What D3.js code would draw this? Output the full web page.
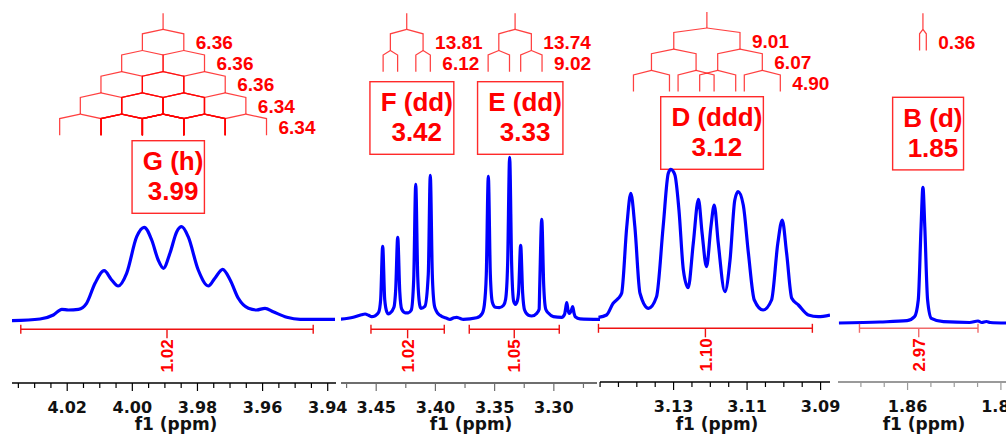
<!DOCTYPE html>
<html><head><meta charset="utf-8">
<script src="https://cdn.jsdelivr.net/npm/d3@7"></script>
<style>body{margin:0;background:#fff}svg{display:block}</style>
</head><body>
<svg id="c" width="1006" height="438"></svg>
<script>
// ---------------- DATA ----------------
const MHZ = 500;
// axis domains (ppm, left -> right)
const panelDomains = [[4.0368, 3.9373], [3.4793, 3.2606], [3.1507, 3.0873], [1.8674, 1.8494]];
// labelled ticks per panel
const ticksG = [4.02, 4.00, 3.98, 3.96, 3.94];
const ticksFE = [3.45, 3.40, 3.35, 3.30];
const ticksD = [3.13, 3.11, 3.09];
const ticksB = [1.86, 1.85];
const minorSteps = [0.005, 0.025, 0.005, 0.0025];
const axisTitle = "f1 (ppm)";

// spectra: [ppm, intensity]
const specG = [
 [4.0368,0.3],[4.0282,2],[4.0241,6],[4.0215,11.7],[4.0195,11],[4.0164,11.7],[4.0139,17.7],[4.0113,37.7],
 [4.0085,50.3],[4.0062,41],[4.0042,35],[4.0016,47.7],[3.9985,84.3],[3.9962,93.7],[3.9939,81],[3.9919,61],
 [3.9903,52.7],[3.9883,67.7],[3.9862,89.3],[3.9847,94.3],[3.9827,84.3],[3.9796,51],[3.9765,35],[3.9745,42.7],
 [3.9721,51.7],[3.9698,41],[3.9673,22.7],[3.9642,12.7],[3.9617,11],[3.9591,12.7],[3.9566,9.3],[3.9524,3.7],
 [3.9483,1.7],[3.9376,1.7]
];
const specFE = [
 [3.4801,0],[3.4689,2],[3.4620,4.5],[3.4590,5.3],[3.4560,4],[3.4534,2.6],[3.4505,3.5],[3.4475,7],
 [3.4458,20],[3.4441,73],[3.4424,20],[3.4405,7],[3.4394,5.3],[3.4380,6],[3.4346,12],[3.4331,30],
 [3.4314,82],[3.4297,28],[3.4280,10],[3.4250,6.5],[3.4225,6.5],[3.4200,9],[3.4179,40],[3.4162,135],
 [3.4145,42],[3.4128,14],[3.4118,11],[3.4085,13],[3.4056,45],[3.4039,144],[3.4022,45],[3.4005,14],
 [3.3991,9],[3.3957,4],[3.3900,1],[3.3873,0],[3.3840,1.5],[3.3816,2],[3.3790,1],[3.3760,0],
 [3.3647,1.5],[3.3600,6],[3.3583,14],[3.3566,45],[3.3549,143],[3.3532,45],[3.3515,17],[3.3490,12],
 [3.3456,11.6],[3.3420,14],[3.3403,20],[3.3386,55],[3.3369,162],[3.3352,55],[3.3335,18],[3.3320,15],
 [3.3305,18],[3.3293,28],[3.3276,74],[3.3259,26],[3.3242,9],[3.3210,4],[3.3183,3.3],[3.3140,6],
 [3.3120,10],[3.3115,33],[3.3098,100],[3.3081,33],[3.3064,10],[3.3040,6],[3.3000,2.6],[3.2929,2],
 [3.2905,5],[3.2897,10],[3.2887,16.6],[3.2876,9],[3.2865,6],[3.2848,9],[3.2837,12.6],[3.2825,6],
 [3.2815,2.5],[3.2775,0.5],[3.2606,0]
];
const specD = [
 [3.1503,0.7],[3.1481,3],[3.1463,14.7],[3.1449,19.7],[3.1440,24.7],[3.1426,91.3],[3.1415,124.7],[3.1404,91.3],
 [3.1390,24.7],[3.1367,9.7],[3.1345,21.3],[3.1327,91.3],[3.1313,144.7],[3.1306,148.7],[3.1295,143],[3.1284,108],
 [3.1272,48],[3.1259,30.3],[3.1245,74.7],[3.1231,118.7],[3.1221,84.7],[3.1209,51.3],[3.1197,91.3],[3.1188,113],
 [3.1177,74.7],[3.1159,26.3],[3.1145,58],[3.1132,118],[3.1123,126.3],[3.1109,113],[3.1095,64.7],[3.1079,18],
 [3.1055,8],[3.1032,18],[3.1015,74.7],[3.1003,98],[3.0991,64.7],[3.0977,19.7],[3.0959,13],[3.0932,3],
 [3.0905,1.3],[3.0873,3]
];
const specB = [
 [1.8673,0],[1.8629,1],[1.8600,2.3],[1.8592,6.3],[1.8588,23],[1.8585,96],[1.8583,135.7],[1.8581,96],
 [1.8578,23],[1.8574,4.7],[1.8561,1.3],[1.8533,0.5],[1.8524,2],[1.8520,0.5],[1.8515,1.5],[1.8511,0.5],[1.8494,0]
];

// multiplets
const multLabels = ["G (h)", "F (dd)", "E (dd)", "D (ddd)", "B (d)"];
const multShifts = ["3.99", "3.42", "3.33", "3.12", "1.85"];
const multCenters = [3.9904, 3.4238, 3.3323, 3.1208, 1.8583];
const multPanels = [0, 1, 1, 2, 3];
const multJ = [[6.36, 6.36, 6.36, 6.34, 6.34], [13.81, 6.12], [13.74, 9.02], [9.01, 6.07, 4.90], [0.36]];

// integrals
const intPanels = [0, 1, 1, 2, 3];
const intFrom = [4.0341, 3.4540, 3.3710, 3.1503, 1.8651];
const intTo = [3.9443, 3.3921, 3.2950, 3.0921, 1.8524];
const intValues = ["1.02", "1.02", "1.05", "1.10", "2.97"];

// ---------------- LAYOUT ----------------
const panelRange = [[12, 336], [341, 600], [597, 830], [838, 1006]];
const axisExtent = [[12, 336], [341, 597], [600, 830], [838, 1006]];
const baseY = [321, 319.3, 318, 323];
const axisY = [383, 383, 382, 382];
const axisColor = ["#000", "#6e6e6e", "#000", "#9a9a9a"];
const axisWidth = [1.6, 2.2, 1.6, 2.2];
const intY = [329.3, 329.3, 329.3, 328.3, 328.3];
const intColor = ["#ee1111", "#ee1111", "#ee1111", "#ee1111", "#f06a6a"];
const treeTop = [13.3, 13.3, 13.3, 12, 13.3];
const boxTop = [140.7, 81.7, 81.7, 96.7, 97.3];

const spectra = [specG, specFE, specD, specB];
const majorTicks = [ticksG, ticksFE, ticksD, ticksB];
const RED = "#ff0000";
const SANS = "'Liberation Sans', Arial, sans-serif";
const AXF = "'DejaVu Sans', Verdana, sans-serif";

const svg = d3.select("#c");
const defs = svg.append("defs");
const xs = panelDomains.map((d, i) => d3.scaleLinear().domain(d).range(panelRange[i]));
const ys = baseY.map(b => d3.scaleLinear().domain([0, 100]).range([b, b - 100]));

// spectra
spectra.forEach((s, i) => {
  defs.append("clipPath").attr("id", "cp" + i).append("rect")
    .attr("x", panelRange[i][0]).attr("y", 0)
    .attr("width", panelRange[i][1] - panelRange[i][0]).attr("height", 438);
  const line = d3.line().x(d => xs[i](d[0])).y(d => ys[i](d[1])).curve(d3.curveMonotoneX);
  svg.append("path").datum(s).attr("clip-path", `url(#cp${i})`)
    .attr("fill", "none").attr("stroke", "#0000ff").attr("stroke-width", 3.2)
    .attr("stroke-linejoin", "round").attr("d", line);
});

// axes
const fmt = d3.format(".2f");
xs.forEach((x, i) => {
  const [a, b] = panelDomains[i];
  const st = minorSteps[i];
  const lo = Math.min(a, b), hi = Math.max(a, b);
  const all = d3.range(Math.ceil(lo / st - 1e-9), Math.floor(hi / st + 1e-9) + 1).map(k => +(k * st).toFixed(4));
  const isMajor = v => majorTicks[i].some(m => Math.abs(m - v) < 1e-6);
  const ax = d3.axisBottom(x).tickValues(all).tickSizeOuter(0).tickSize(6)
    .tickFormat(v => isMajor(v) ? fmt(v) : "");
  const g = svg.append("g").attr("transform", `translate(0,${axisY[i]})`).call(ax);
  g.select(".domain").attr("d", `M${axisExtent[i][0]},0H${axisExtent[i][1]}`)
    .attr("stroke", axisColor[i]).attr("stroke-width", axisWidth[i]);
  g.selectAll(".tick line").attr("stroke", axisColor[i]).attr("stroke-width", 1.2)
    .attr("y2", v => isMajor(v) ? 8 : 5);
  g.selectAll(".tick text").attr("y", 0).attr("dy", 30).attr("fill", "#111")
    .style("font-family", AXF).style("font-weight", "bold").style("font-size", "16px");
  svg.append("text").attr("x", (axisExtent[i][0] + axisExtent[i][1]) / 2 + 2).attr("y", 430)
    .attr("text-anchor", "middle").attr("fill", "#111")
    .style("font-family", AXF).style("font-weight", "bold").style("font-size", "17px")
    .text(axisTitle);
});

// integrals
intValues.forEach((v, k) => {
  const x = xs[intPanels[k]], y = intY[k], c = intColor[k];
  const x1 = x(intFrom[k]), x2 = x(intTo[k]), xm = (x1 + x2) / 2;
  const g = svg.append("g").attr("stroke", c).attr("stroke-width", 1.4).attr("fill", "none");
  g.append("line").attr("x1", x1).attr("x2", x2).attr("y1", y).attr("y2", y);
  g.append("line").attr("x1", x1).attr("x2", x1).attr("y1", y - 4.5).attr("y2", y + 4.5);
  g.append("line").attr("x1", x2).attr("x2", x2).attr("y1", y - 4.5).attr("y2", y + 4.5);
  g.append("line").attr("x1", xm).attr("x2", xm).attr("y1", y).attr("y2", y + 9);
  svg.append("text").attr("transform", `translate(${xm},${y + 10}) rotate(-90)`)
    .attr("text-anchor", "end").attr("dy", "0.36em").attr("fill", RED)
    .style("font-family", SANS).style("font-weight", "bold").style("font-size", "17px")
    .text(v);
});

// multiplet trees + boxes
const STEM = 16, DIAG = 4.5, LEVEL = 21.2;
multLabels.forEach((lab, k) => {
  const x = xs[multPanels[k]];
  const g = svg.append("g").attr("stroke", RED).attr("stroke-opacity", 0.75)
    .attr("stroke-width", 1.25).attr("fill", "none");
  const c = multCenters[k];
  let y = treeTop[k];
  g.append("line").attr("x1", x(c)).attr("x2", x(c)).attr("y1", y).attr("y2", y + STEM);
  y += STEM;
  let nodes = [c];
  multJ[k].forEach(J => {
    const half = J / MHZ / 2;
    const next = [];
    nodes.forEach(n => {
      [n + half, n - half].forEach(ch => {
        g.append("path").attr("d", `M${x(n)},${y}L${x(ch)},${y + DIAG}L${x(ch)},${y + LEVEL}`);
        next.push(ch);
      });
    });
    const right = d3.max(next, v => x(v));
    svg.append("text").attr("x", right + 12).attr("y", y + DIAG + (LEVEL - DIAG) / 2)
      .attr("dy", "0.36em").attr("fill", RED)
      .style("font-family", SANS).style("font-weight", "bold").style("font-size", "19px")
      .text(J.toFixed(2));
    nodes = next;
    y += LEVEL;
  });
  // label box
  const tx = x(c) + 10;
  const t1 = svg.append("text").attr("x", tx).attr("y", boxTop[k] + 29.3).attr("text-anchor", "middle")
    .attr("fill", RED).style("font-family", SANS).style("font-weight", "bold").style("font-size", "26px")
    .text(lab);
  svg.append("text").attr("x", tx).attr("y", boxTop[k] + 59.3).attr("text-anchor", "middle")
    .attr("fill", RED).style("font-family", SANS).style("font-weight", "bold").style("font-size", "26px")
    .text(multShifts[k]);
  const w = t1.node().getComputedTextLength();
  svg.insert("rect", ":first-child").attr("x", tx - w / 2 - 10.7).attr("y", boxTop[k])
    .attr("width", w + 11.7).attr("height", 72.6)
    .attr("fill", "none").attr("stroke", "#ff2a2a").attr("stroke-width", 1.4);
});
</script>
</body></html>
